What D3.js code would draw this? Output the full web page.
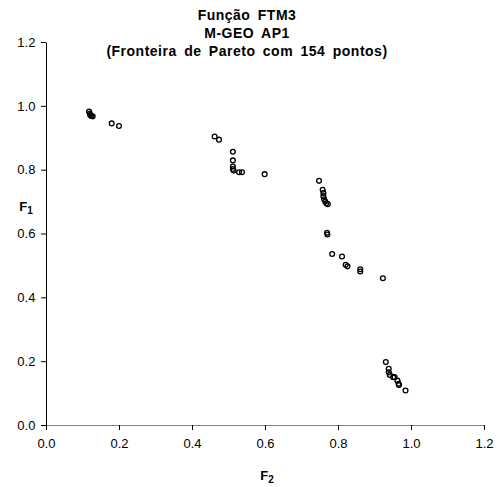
<!DOCTYPE html>
<html>
<head>
<meta charset="utf-8">
<script src="https://cdn.jsdelivr.net/npm/d3@7"></script>
<style>
  body { margin: 0; background: #fff; }
  text { font-family: "Liberation Sans", Arial, sans-serif; }
</style>
</head>
<body>
<svg id="chart" width="498" height="487"></svg>
<script>
// F2 (x) and F1 (y) values
const f2 = [0.118, 0.120, 0.121, 0.124, 0.128, 0.18, 0.20,
            0.462, 0.474, 0.512, 0.512, 0.512, 0.512, 0.514, 0.529, 0.537, 0.599,
            0.748, 0.758, 0.760, 0.760, 0.762, 0.765, 0.768, 0.772, 0.770, 0.771,
            0.784, 0.811, 0.821, 0.826, 0.861, 0.861, 0.923,
            0.931, 0.939, 0.939, 0.942, 0.951, 0.955, 0.963, 0.966, 0.967, 0.985];
const f1 = [0.982, 0.976, 0.971, 0.968, 0.967, 0.945, 0.937,
            0.904, 0.894, 0.856, 0.829, 0.810, 0.802, 0.797, 0.792, 0.792, 0.786,
            0.765, 0.737, 0.727, 0.717, 0.707, 0.700, 0.695, 0.692, 0.602, 0.597,
            0.536, 0.528, 0.502, 0.497, 0.488, 0.481, 0.460,
            0.197, 0.176, 0.165, 0.157, 0.150, 0.150, 0.139, 0.129, 0.125, 0.108];
const ticks = [0, 0.2, 0.4, 0.6, 0.8, 1.0, 1.2];
const titleLines = ["Função FTM3", "M-GEO AP1", "(Fronteira de Pareto com 154 pontos)"];

const data = f2.map((x, i) => ({ x: x, y: f1[i] }));

const svg = d3.select("#chart");
const margin = { left: 46, right: 14, top: 42, bottom: 62 };
const width = 498, height = 487;

const xScale = d3.scaleLinear().domain([0, 1.2]).range([margin.left, width - margin.right]);
const yScale = d3.scaleLinear().domain([0, 1.2]).range([height - margin.bottom, margin.top]);

// x axis
const xAxis = svg.append("g")
  .attr("transform", `translate(0, ${yScale(0)})`)
  .call(d3.axisBottom(xScale).tickValues(ticks).tickFormat(d3.format(".1f")).tickSize(5).tickSizeOuter(0));
xAxis.select(".domain").attr("stroke", "#808080");
xAxis.selectAll(".tick line").attr("stroke", "#000");
xAxis.selectAll("text").attr("font-size", 13).attr("fill", "#000").attr("dy", "1.15em");

// y axis
const yAxis = svg.append("g")
  .attr("transform", `translate(${xScale(0)}, 0)`)
  .call(d3.axisLeft(yScale).tickValues(ticks).tickFormat(d3.format(".1f")).tickSize(5).tickSizeOuter(0));
yAxis.select(".domain").attr("stroke", "#000");
yAxis.selectAll("text").attr("font-size", 13).attr("fill", "#000").attr("dx", "-0.2em");

// points
svg.append("g")
  .selectAll("circle")
  .data(data)
  .enter()
  .append("circle")
  .attr("cx", d => xScale(d.x))
  .attr("cy", d => yScale(d.y))
  .attr("r", 2.4)
  .attr("fill", "none")
  .attr("stroke", "#000")
  .attr("stroke-width", 1.3);

// title
svg.append("g")
  .selectAll("text")
  .data(titleLines)
  .enter()
  .append("text")
  .attr("x", 247)
  .attr("y", (d, i) => 20 + i * 18)
  .attr("text-anchor", "middle")
  .attr("font-size", 14)
  .attr("font-weight", "bold")
  .attr("letter-spacing", 0.5)
  .attr("word-spacing", 3)
  .text(d => d);

// axis titles
const xt = svg.append("text")
  .attr("x", 267)
  .attr("y", 480)
  .attr("text-anchor", "middle")
  .attr("font-size", 13)
  .attr("font-weight", "bold");
xt.append("tspan").text("F");
xt.append("tspan").attr("font-size", 10).attr("dy", 3).text("2");

const yt = svg.append("text")
  .attr("x", 26)
  .attr("y", 211)
  .attr("text-anchor", "middle")
  .attr("font-size", 13)
  .attr("font-weight", "bold");
yt.append("tspan").text("F");
yt.append("tspan").attr("font-size", 10).attr("dy", 3).text("1");
</script>
</body>
</html>
